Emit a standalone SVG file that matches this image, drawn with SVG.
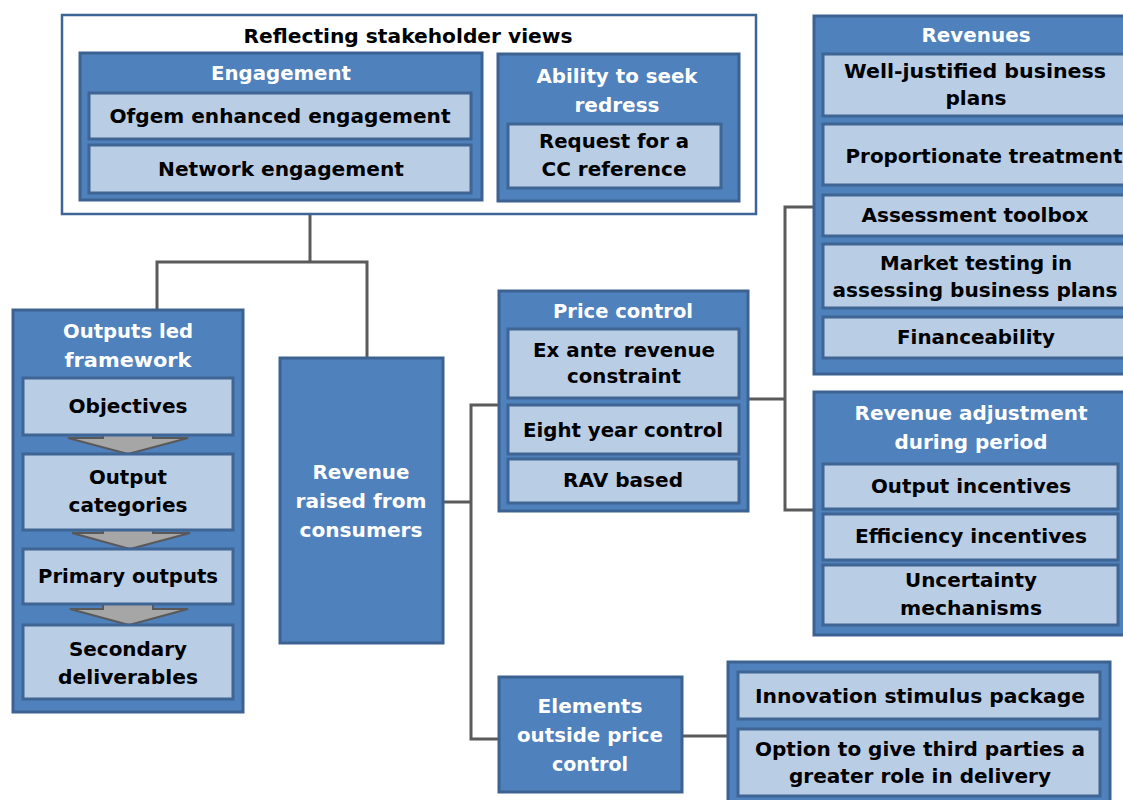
<svg xmlns="http://www.w3.org/2000/svg" width="1123" height="800" viewBox="0 0 1123 800">
<style>
.outer{fill:#4f81bd;stroke:#3c6291;stroke-width:3}
.inner{fill:#b9cde5;stroke:#3e6593;stroke-width:3}
.frame{fill:#ffffff;stroke:#3f6596;stroke-width:2.5}
.conn{fill:none;stroke:#5a5a5a;stroke-width:3}
.arr{fill:#a6a6a6;stroke:#595959;stroke-width:2}
text{font-family:"DejaVu Sans","Liberation Sans",sans-serif;font-weight:bold;font-size:19.5px;text-anchor:middle}
.w{fill:#ffffff}
.b{fill:#000000}
</style>
<rect width="1123" height="800" fill="#ffffff"/>
<g id="connectors">
<polyline class="conn" points="310,215 310,262"/>
<polyline class="conn" points="157,310 157,262 367,262 367,357"/>
<polyline class="conn" points="444,502 471,502"/>
<polyline class="conn" points="499,405 471,405 471,739 499,739"/>
<polyline class="conn" points="749,399 785,399"/>
<polyline class="conn" points="813,207 785,207 785,510 813,510"/>
<polyline class="conn" points="682,736 728,736"/>
</g>
<g id="stakeholder-views">
<rect class="frame" x="62" y="15" width="694" height="199"/>
<text class="b" x="408" y="43" textLength="329" lengthAdjust="spacingAndGlyphs">Reflecting stakeholder views</text>
</g>
<g id="engagement">
<rect class="outer" x="80" y="53" width="402" height="147"/>
<text class="w" x="281" y="80" textLength="140" lengthAdjust="spacingAndGlyphs">Engagement</text>
<rect class="inner" x="89" y="93" width="382" height="46"/>
<text class="b" x="280" y="123" textLength="341" lengthAdjust="spacingAndGlyphs">Ofgem enhanced engagement</text>
<rect class="inner" x="89" y="145" width="382" height="48"/>
<text class="b" x="281" y="176" textLength="246" lengthAdjust="spacingAndGlyphs">Network engagement</text>
</g>
<g id="redress">
<rect class="outer" x="498" y="54" width="241" height="147"/>
<text class="w" x="617" y="83" textLength="161" lengthAdjust="spacingAndGlyphs">Ability to seek</text>
<text class="w" x="617" y="112" textLength="85" lengthAdjust="spacingAndGlyphs">redress</text>
<rect class="inner" x="508" y="124" width="213" height="64"/>
<text class="b" x="614" y="148" textLength="150" lengthAdjust="spacingAndGlyphs">Request for a</text>
<text class="b" x="614" y="176" textLength="145" lengthAdjust="spacingAndGlyphs">CC reference</text>
</g>
<g id="outputs-framework">
<rect class="outer" x="13" y="310" width="230" height="402"/>
<text class="w" x="128" y="338" textLength="130" lengthAdjust="spacingAndGlyphs">Outputs led</text>
<text class="w" x="128" y="367" textLength="127" lengthAdjust="spacingAndGlyphs">framework</text>
<polygon class="arr" points="103,430 153,430 153,438 188,438 128,454 68,438 103,438"/>
<polygon class="arr" points="103,526 153,526 153,533 190,533 130,549 72,533 103,533"/>
<polygon class="arr" points="103,602 153,602 153,609 188,609 129,625 70,609 103,609"/>
<rect class="inner" x="23" y="378" width="210" height="57"/>
<text class="b" x="128" y="413" textLength="119" lengthAdjust="spacingAndGlyphs">Objectives</text>
<rect class="inner" x="23" y="454" width="210" height="76"/>
<text class="b" x="128" y="484" textLength="78" lengthAdjust="spacingAndGlyphs">Output</text>
<text class="b" x="128" y="512" textLength="119" lengthAdjust="spacingAndGlyphs">categories</text>
<rect class="inner" x="23" y="549" width="210" height="55"/>
<text class="b" x="128" y="583" textLength="180" lengthAdjust="spacingAndGlyphs">Primary outputs</text>
<rect class="inner" x="23" y="625" width="210" height="74"/>
<text class="b" x="128" y="656" textLength="118" lengthAdjust="spacingAndGlyphs">Secondary</text>
<text class="b" x="128" y="684" textLength="140" lengthAdjust="spacingAndGlyphs">deliverables</text>
</g>
<g id="revenue-consumers">
<rect class="outer" x="280" y="358" width="163" height="285"/>
<text class="w" x="361" y="479" textLength="97" lengthAdjust="spacingAndGlyphs">Revenue</text>
<text class="w" x="361" y="508" textLength="131" lengthAdjust="spacingAndGlyphs">raised from</text>
<text class="w" x="361" y="537" textLength="123" lengthAdjust="spacingAndGlyphs">consumers</text>
</g>
<g id="price-control">
<rect class="outer" x="499" y="291" width="249" height="220"/>
<text class="w" x="623" y="318" textLength="140" lengthAdjust="spacingAndGlyphs">Price control</text>
<rect class="inner" x="508" y="329" width="231" height="69"/>
<text class="b" x="624" y="357" textLength="182" lengthAdjust="spacingAndGlyphs">Ex ante revenue</text>
<text class="b" x="624" y="383" textLength="114" lengthAdjust="spacingAndGlyphs">constraint</text>
<rect class="inner" x="508" y="405" width="231" height="49"/>
<text class="b" x="623" y="437" textLength="200" lengthAdjust="spacingAndGlyphs">Eight year control</text>
<rect class="inner" x="508" y="459" width="231" height="44"/>
<text class="b" x="623" y="487" textLength="120" lengthAdjust="spacingAndGlyphs">RAV based</text>
</g>
<g id="revenues">
<rect class="outer" x="814" y="16" width="330" height="358"/>
<text class="w" x="976" y="42" textLength="109" lengthAdjust="spacingAndGlyphs">Revenues</text>
<rect class="inner" x="823" y="54" width="312" height="62"/>
<text class="b" x="975" y="78" textLength="262" lengthAdjust="spacingAndGlyphs">Well-justified business</text>
<text class="b" x="976" y="105" textLength="61" lengthAdjust="spacingAndGlyphs">plans</text>
<rect class="inner" x="823" y="124" width="312" height="61"/>
<text class="b" x="984" y="163" textLength="277" lengthAdjust="spacingAndGlyphs">Proportionate treatment</text>
<rect class="inner" x="823" y="195" width="312" height="41"/>
<text class="b" x="975" y="222" textLength="227" lengthAdjust="spacingAndGlyphs">Assessment toolbox</text>
<rect class="inner" x="823" y="244" width="312" height="64"/>
<text class="b" x="976" y="270" textLength="192" lengthAdjust="spacingAndGlyphs">Market testing in</text>
<text class="b" x="975" y="297" textLength="285" lengthAdjust="spacingAndGlyphs">assessing business plans</text>
<rect class="inner" x="823" y="317" width="312" height="41"/>
<text class="b" x="976" y="344" textLength="158" lengthAdjust="spacingAndGlyphs">Financeability</text>
</g>
<g id="revenue-adjustment">
<rect class="outer" x="814" y="392" width="314" height="243"/>
<text class="w" x="971" y="420" textLength="233" lengthAdjust="spacingAndGlyphs">Revenue adjustment</text>
<text class="w" x="971" y="449" textLength="153" lengthAdjust="spacingAndGlyphs">during period</text>
<rect class="inner" x="823" y="464" width="295" height="45"/>
<text class="b" x="971" y="493" textLength="200" lengthAdjust="spacingAndGlyphs">Output incentives</text>
<rect class="inner" x="823" y="514" width="295" height="46"/>
<text class="b" x="971" y="543" textLength="232" lengthAdjust="spacingAndGlyphs">Efficiency incentives</text>
<rect class="inner" x="823" y="565" width="295" height="60"/>
<text class="b" x="971" y="587" textLength="132" lengthAdjust="spacingAndGlyphs">Uncertainty</text>
<text class="b" x="971" y="615" textLength="142" lengthAdjust="spacingAndGlyphs">mechanisms</text>
</g>
<g id="elements-outside">
<rect class="outer" x="499" y="677" width="183" height="115"/>
<text class="w" x="590" y="713" textLength="105" lengthAdjust="spacingAndGlyphs">Elements</text>
<text class="w" x="590" y="742" textLength="146" lengthAdjust="spacingAndGlyphs">outside price</text>
<text class="w" x="590" y="771" textLength="76" lengthAdjust="spacingAndGlyphs">control</text>
</g>
<g id="outside-items">
<rect class="outer" x="728" y="662" width="382" height="145"/>
<rect class="inner" x="738" y="672" width="362" height="47"/>
<text class="b" x="920" y="703" textLength="330" lengthAdjust="spacingAndGlyphs">Innovation stimulus package</text>
<rect class="inner" x="738" y="729" width="362" height="67"/>
<text class="b" x="920" y="756" textLength="330" lengthAdjust="spacingAndGlyphs">Option to give third parties a</text>
<text class="b" x="920" y="783" textLength="262" lengthAdjust="spacingAndGlyphs">greater role in delivery</text>
</g>
</svg>
